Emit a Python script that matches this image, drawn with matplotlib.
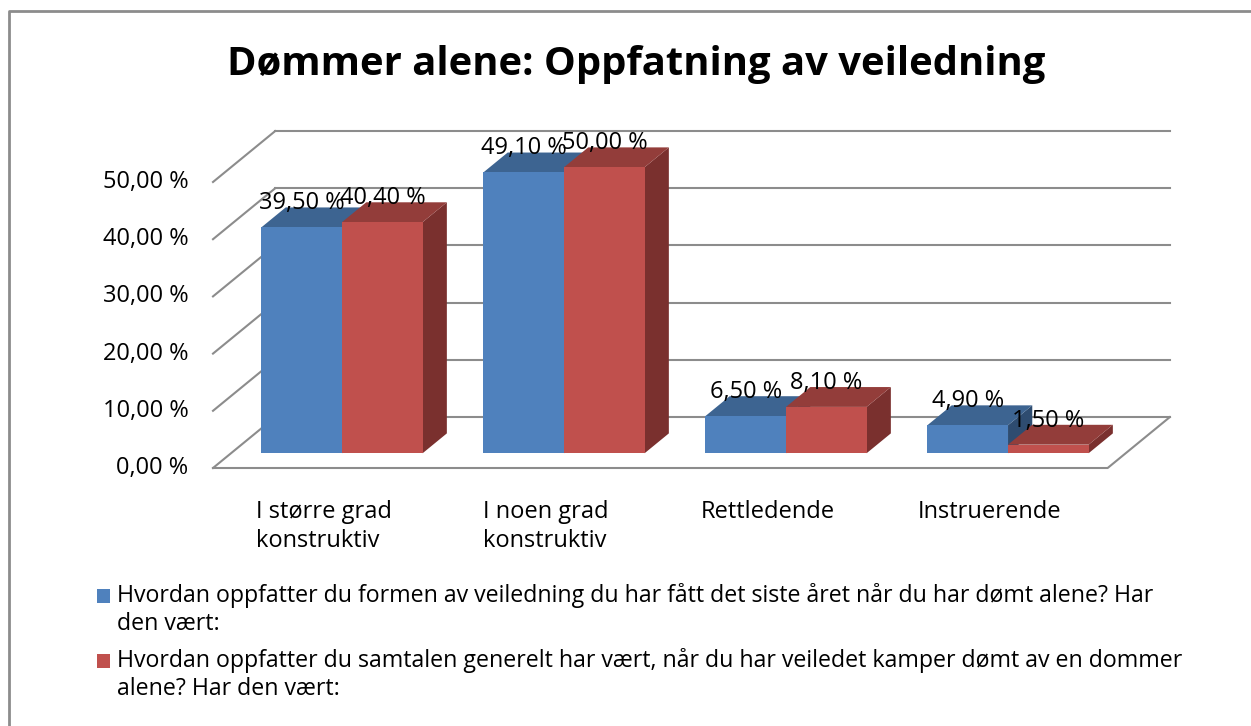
import matplotlib.pyplot as plt
from matplotlib.patches import Polygon, Rectangle
from matplotlib.lines import Line2D

plt.rcParams['font.family'] = ['Open Sans', 'DejaVu Sans']

# --- data ---
title = "Dømmer alene: Oppfatning av veiledning"
categories = ["I større grad\nkonstruktiv", "I noen grad\nkonstruktiv", "Rettledende", "Instruerende"]
series_names = [
    "Hvordan oppfatter du formen av veiledning du har fått det siste året når du har dømt alene? Har\nden vært:",
    "Hvordan oppfatter du samtalen generelt har vært, når du har veiledet kamper dømt av en dommer\nalene? Har den vært:",
]
alene = [39.5, 49.1, 6.5, 4.9]
samtale = [40.4, 50.0, 8.1, 1.5]
yticks = [0, 10, 20, 30, 40, 50]

# colours (front, top, side)
colors = [("#4F81BD", "#3D6491", "#2E4C70"), ("#C0504D", "#933D3A", "#7A302E")]
grid_c = "#8C8C8C"
FS = 17

# --- pseudo 3D geometry ---
W_PX, H_PX = 1251, 726
DX, DY = 0.28, 8.9        # offset of the back wall (category units, %)
D0, D1 = 0.29, 0.68       # depth of bar front / back
BAR_W = 0.363
YMAX = 50


def proj(x, v, d):
    return (x + d * DX, v + d * DY)


fig = plt.figure(figsize=(W_PX / 100, H_PX / 100), dpi=100)
px_per_cat = 222
px_per_pct = 5.72
left_px, bottom_px = 213, 468
ax = fig.add_axes([left_px / W_PX, (H_PX - bottom_px) / H_PX,
                   (4 + DX) * px_per_cat / W_PX, (YMAX + DY) * px_per_pct / H_PX])
ax.set_xlim(-0.5, 3.5 + DX)
ax.set_ylim(0, YMAX + DY)
ax.axis('off')

x_lo, x_hi = -0.5, len(categories) - 0.5 + 0.03

# walls / grid
for v in yticks:
    a, b = proj(x_lo, v, 0), proj(x_lo, v, 1)
    ax.plot([a[0], b[0]], [a[1], b[1]], color=grid_c, lw=1.5, zorder=1, clip_on=False)
    c = proj(x_hi, v, 1)
    ax.plot([b[0], c[0]], [b[1], c[1]], color=grid_c, lw=1.5, zorder=1, clip_on=False)
    ax.text(x_lo - 0.11, v, f"{v:.2f} %".replace('.', ','), ha='right', va='center',
            fontsize=FS)
f0, f1, f2 = proj(x_lo, 0, 0), proj(x_hi, 0, 0), proj(x_hi, 0, 1)
ax.plot([f0[0], f1[0], f2[0]], [f0[1], f1[1], f2[1]], color=grid_c, lw=1.5, zorder=1,
        clip_on=False)

# bars
for s, vals in enumerate([alene, samtale]):
    front, top, side = colors[s]
    for i, v in enumerate(vals):
        x0 = i - BAR_W + s * BAR_W
        x1 = x0 + BAR_W
        z = 2 + s
        ax.add_patch(Polygon([proj(x1, 0, D0), proj(x1, v, D0), proj(x1, v, D1), proj(x1, 0, D1)],
                             closed=True, fc=side, ec='none', zorder=z))
        ax.add_patch(Polygon([proj(x0, v, D0), proj(x1, v, D0), proj(x1, v, D1), proj(x0, v, D1)],
                             closed=True, fc=top, ec='none', zorder=z))
        ax.add_patch(Polygon([proj(x0, 0, D0), proj(x1, 0, D0), proj(x1, v, D0), proj(x0, v, D0)],
                             closed=True, fc=front, ec='none', zorder=z))

# value labels
for s, vals in enumerate([alene, samtale]):
    for i, v in enumerate(vals):
        xc = i - BAR_W / 2 + s * BAR_W
        ax.text(xc + D0 * DX, v + D1 * DY - 0.3, f"{v:.2f} %".replace('.', ','),
                ha='center', va='baseline', fontsize=FS, zorder=10)

# category labels
for i, cat in enumerate(categories):
    ax.text(i, -5.6, cat, ha='center', va='top', multialignment='left',
            fontsize=FS, linespacing=1.25)

# title
fig.text(636 / W_PX, 1 - 64 / H_PX, title, ha='center', va='center',
         fontsize=28.8, fontweight='bold')

# legend
for s, name in enumerate(series_names):
    y_px = 596 + s * 65
    fig.add_artist(Rectangle((97 / W_PX, 1 - (y_px + 7) / H_PX), 13 / W_PX, 14 / H_PX,
                             transform=fig.transFigure, fc=colors[s][0], ec='none'))
    fig.text(117 / W_PX, 1 - (y_px - 13) / H_PX, name, ha='left', va='top',
             fontsize=16.7, linespacing=1.24)

# chart border (top and left edges visible)
fig.add_artist(Line2D([9 / W_PX, 9 / W_PX, 1.0], [0, 1 - 11 / H_PX, 1 - 11 / H_PX],
                      transform=fig.transFigure, color='#8C8C8C', lw=2))

fig.savefig('out.png', dpi=100)
